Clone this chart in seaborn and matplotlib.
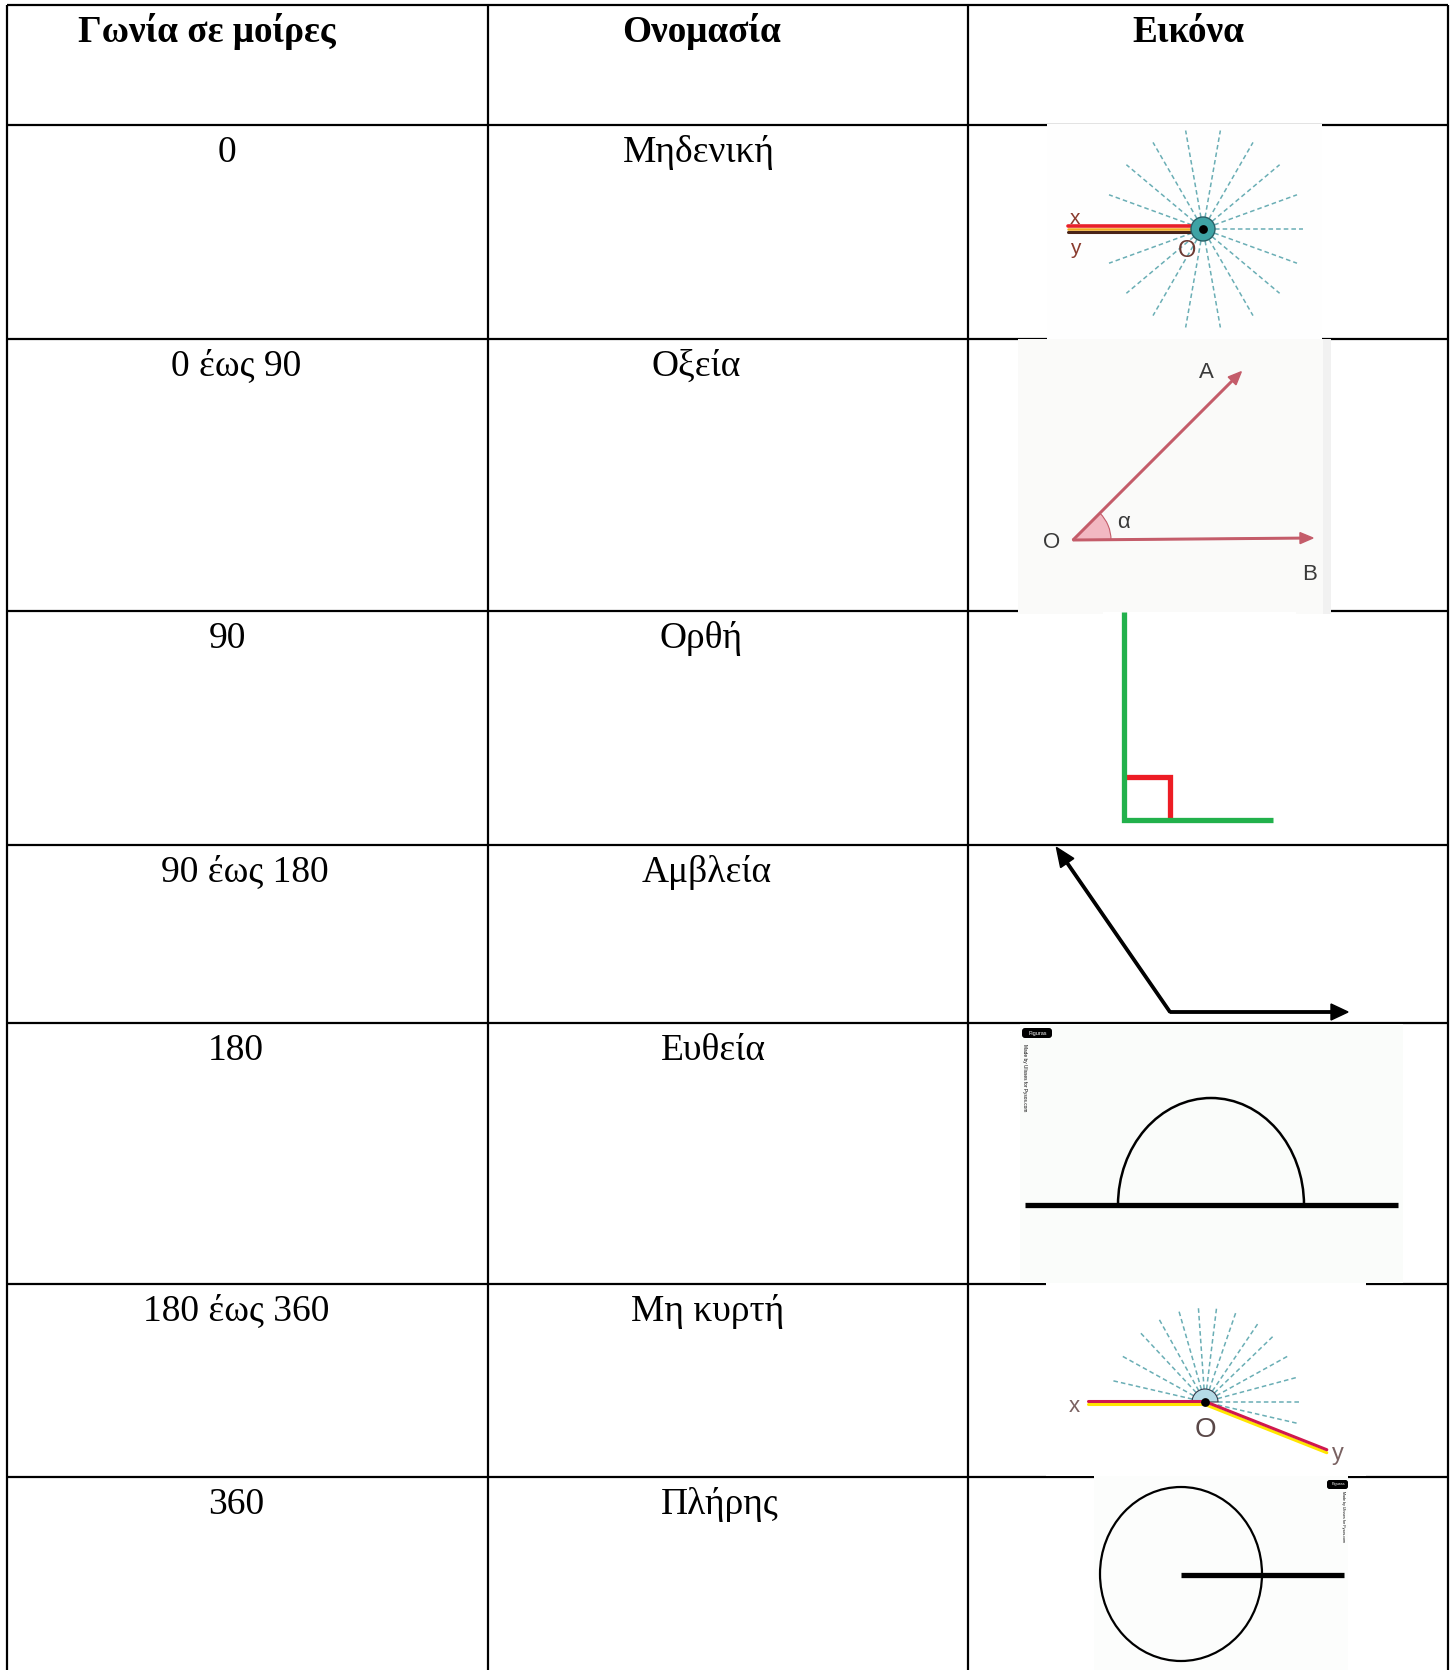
import matplotlib.pyplot as plt
import matplotlib.patches as mpatches
import numpy as np
import seaborn as sns

# table content
headers = ["Γωνία σε μοίρες", "Ονομασία", "Εικόνα"]
degrees = ["0", "0 έως 90", "90", "90 έως 180", "180", "180 έως 360", "360"]
names = ["Μηδενική", "Οξεία", "Ορθή", "Αμβλεία", "Ευθεία", "Μη κυρτή", "Πλήρης"]

# angles used by the little drawings (degrees, screen orientation)
zero_rays = [0, 20, 40, 60, 80, 100, 120, 140, 160, 200, 220, 240, 260, 280, 300, 320, 340]
reflex_rays = [-13, 0, 15, 29, 44, 56, 71, 83, 94, 106, 119, 133, 151, 167]
acute_angle = 45
obtuse_angle = 124.6
reflex_y_angle = -21.6

# layout (pixels)
col_x = [7, 488, 968, 1448]
row_y = [5, 125, 339, 611, 845, 1023, 1284, 1477]
head_cx = [207, 702, 1188]
deg_cx = [227, 236, 227, 245, 236, 236, 236]
name_cx = [699, 696, 701, 707, 713, 708, 720]

sns.set_theme(style="white")
plt.rcParams['font.family'] = ['Liberation Serif', 'DejaVu Serif']
plt.rcParams['text.color'] = 'black'
SANS = ['Liberation Sans', 'DejaVu Sans']

fig = plt.figure(figsize=(14.54, 16.70), dpi=100)
ax = fig.add_axes([0, 0, 1, 1])


def ray(cx, cy, ang, r0, r1):
    t = np.deg2rad(ang)
    return ([cx + r0 * np.cos(t), cx + r1 * np.cos(t)],
            [cy - r0 * np.sin(t), cy - r1 * np.sin(t)])


# table rules
ax.hlines(row_y, col_x[0], col_x[-1], color='black', lw=1.6, zorder=1)
ax.vlines(col_x, row_y[0], 1670, color='black', lw=1.6, zorder=1)

# text
for cx, h in zip(head_cx, headers):
    ax.text(cx, row_y[0] + 37, h, ha='center', va='baseline', fontsize=26.8, fontweight='bold')
for i, (d, n) in enumerate(zip(degrees, names)):
    base = row_y[i + 1] + 37
    ax.text(deg_cx[i], base, d, ha='center', va='baseline', fontsize=27)
    ax.text(name_cx[i], base, n, ha='center', va='baseline', fontsize=27)

# picture backgrounds (they sit over the rules like pasted images)
boxes = [(1047, 124, 1322, 339, '#fefefe'),
         (1018, 339, 1331, 614, '#fafaf9'),
         (1103, 612, 1296, 843, '#ffffff'),
         (1020, 1024, 1403, 1283, '#fafcfa'),
         (1046, 1283, 1366, 1476, '#ffffff'),
         (1094, 1476, 1348, 1670, '#fcfdfc')]
for x0, y0, x1, y1, c in boxes:
    ax.add_patch(mpatches.Rectangle((x0, y0), x1 - x0, y1 - y0, fc=c, ec='none', zorder=2))
ax.add_patch(mpatches.Rectangle((1323, 339), 8, 275, fc='#f1f1f1', ec='none', zorder=2))

# --- zero angle
cx0, cy0 = 1203, 229
for a in zero_rays:
    xs, ys = ray(cx0, cy0, a, 12, 100)
    ax.plot(xs, ys, color='#6aaeb5', lw=1.1, ls=(0, (3, 2)), zorder=3)
ax.plot([1068, cx0], [226.3, 226.3], color='#e8202a', lw=2.6, zorder=4)
ax.plot([1068, cx0], [229.3, 229.3], color='#f2a91e', lw=1.8, zorder=4)
ax.plot([1068, cx0], [232, 232], color='#4a2418', lw=2.2, zorder=4)
ax.add_patch(mpatches.Circle((cx0, cy0), 12, fc='#3fa3a5', ec='#2a5f66', lw=1, zorder=5))
ax.text(1075, 219, 'x', color='#8a3b2e', fontsize=15, family=SANS, ha='center', va='center', zorder=6)
ax.text(1075, 249, 'y', color='#8a3b2e', fontsize=15, family=SANS, ha='center', va='center', zorder=6)
ax.text(1187, 251, 'O', color='#6b3a33', fontsize=17, family=SANS, ha='center', va='center', zorder=6)

# --- acute angle
ox, oy = 1073, 540
red = '#c45c6a'
ax.add_patch(mpatches.Wedge((ox, oy), 38, -acute_angle, 0, fc='#f2b8c2', ec=red, lw=0.8, zorder=3))
ax.arrow(ox, oy, 240, -2, width=1.6, head_width=11, head_length=13,
         length_includes_head=True, fc=red, ec=red, zorder=4)
la = 238
ax.arrow(ox, oy, la * np.cos(np.deg2rad(acute_angle)), -la * np.sin(np.deg2rad(acute_angle)),
         width=1.6, head_width=11, head_length=13, length_includes_head=True, fc=red, ec=red, zorder=4)
for lbl, lx, ly in [('A', 1206, 372), ('α', 1124, 523), ('O', 1052, 543), ('B', 1310, 575)]:
    ax.text(lx, ly, lbl, color='#3a3a3a', fontsize=16, family=SANS, ha='center', va='center', zorder=5)

# --- right angle
ax.plot([1124, 1170, 1170], [777, 777, 820], color='#ed1c24', lw=3.8,
        solid_joinstyle='miter', solid_capstyle='butt', zorder=3)
ax.plot([1124, 1124, 1273], [612, 820, 820], color='#22b14c', lw=3.8,
        solid_joinstyle='miter', solid_capstyle='butt', zorder=4)

# --- obtuse angle
vx, vy = 1170, 1012
ax.arrow(vx, vy, 178, 0, width=2.4, head_width=16, head_length=17,
         length_includes_head=True, fc='black', ec='black', zorder=4)
lo = 200
ax.arrow(vx, vy, lo * np.cos(np.deg2rad(obtuse_angle)), -lo * np.sin(np.deg2rad(obtuse_angle)),
         width=2.4, head_width=16, head_length=19, length_includes_head=True,
         fc='black', ec='black', zorder=4)

# --- straight angle
ax.plot([1025, 1398], [1205, 1205], color='black', lw=3.8, solid_capstyle='butt', zorder=4)
ax.add_patch(mpatches.Arc((1211, 1205), 186, 214, theta1=180, theta2=360, color='black', lw=1.8, zorder=3))
ax.add_patch(mpatches.FancyBboxPatch((1022, 1028), 30, 10, boxstyle='round,pad=0,rounding_size=3',
                                     fc='black', ec='none', zorder=4))
ax.text(1038, 1033, 'Figuras', color='white', fontsize=4, family=SANS, ha='center', va='center', zorder=5)
ax.text(1024, 1044, 'Made by Ulisses for Pysos.com', rotation=-90, fontsize=3.4, family=SANS,
        ha='center', va='top', zorder=5)

# --- reflex angle
rx, ry = 1205, 1402
for a in reflex_rays:
    xs, ys = ray(rx, ry, a, 13, 97)
    ax.plot(xs, ys, color='#6aaeb5', lw=1.1, ls=(0, (3, 2)), zorder=3)
ax.add_patch(mpatches.Wedge((rx, ry), 13, 180, 360, fc='#b4dbe6', ec='#333a4a', lw=0.8, zorder=4))
ax.plot([1088, rx], [1404, 1404], color='#ffe600', lw=2.2, zorder=4)
ax.plot([1088, rx], [1401, 1401], color='#d0184e', lw=2.2, zorder=5)
ly_ = 131
ex = ly_ * np.cos(np.deg2rad(reflex_y_angle))
ey = -ly_ * np.sin(np.deg2rad(reflex_y_angle))
ax.plot([rx, rx + ex], [ry + 2.5, ry + ey + 2.5], color='#ffe600', lw=2.2, zorder=4)
ax.plot([rx, rx + ex], [ry - 0.5, ry + ey - 0.5], color='#d0184e', lw=2.2, zorder=5)
ax.text(1074, 1406, 'x', color='#7a6262', fontsize=16, family=SANS, ha='center', va='center', zorder=6)
ax.text(1205, 1430, 'O', color='#5a4848', fontsize=20, family=SANS, ha='center', va='center', zorder=6)
ax.text(1338, 1454, 'y', color='#7a6262', fontsize=17, family=SANS, ha='center', va='center', zorder=6)

# --- full angle
ax.add_patch(mpatches.Ellipse((1181, 1574), 162, 174, fill=False, ec='black', lw=1.6, zorder=3))
ax.plot([1181, 1344], [1575, 1575], color='black', lw=3.8, solid_capstyle='butt', zorder=4)
ax.add_patch(mpatches.FancyBboxPatch((1327, 1480), 21, 9, boxstyle='round,pad=0,rounding_size=2.5',
                                     fc='black', ec='none', zorder=4))
ax.text(1338, 1484.5, 'Figuras', color='white', fontsize=3, family=SANS, ha='center', va='center', zorder=5)
ax.text(1343, 1491, 'Made by Ulisses for Pysos.com', rotation=-90, fontsize=2.6, family=SANS,
        ha='center', va='top', zorder=5)

# vertex dots
sns.scatterplot(x=[cx0, rx], y=[cy0, ry], color='black', s=40, linewidth=0, legend=False, ax=ax, zorder=7)

ax.set_xlim(0, 1454)
ax.set_ylim(1670, 0)
ax.axis('off')
fig.savefig('out.png', dpi=100, facecolor='white')
